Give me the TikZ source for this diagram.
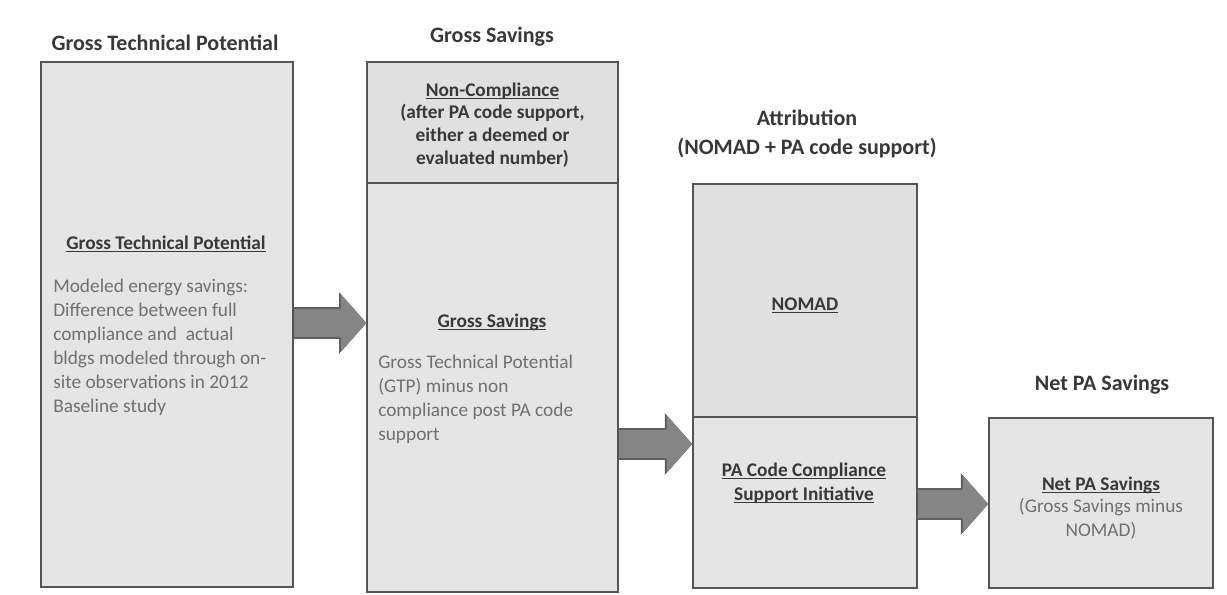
\documentclass[tikz,border=0pt]{standalone}
\usepackage{fontspec}
\setmainfont{Carlito}
\usetikzlibrary{arrows.meta}
\definecolor{boxfill}{HTML}{E5E5E5}
\definecolor{boxfilldark}{HTML}{E0E0E0}
\definecolor{boxline}{HTML}{555555}
\definecolor{arrowfill}{HTML}{858585}
\definecolor{arrowline}{HTML}{5F5F5F}
\definecolor{bodytext}{HTML}{707070}
\definecolor{headtext}{HTML}{383838}
% underline sitting right under the baseline
\newcommand{\headul}[1]{\underline{\raisebox{0pt}[\height][0pt]{#1}}}

\begin{document}
\begin{tikzpicture}[x=0.75pt, y=-0.75pt,
    box/.style={draw=boxline, line width=1.2pt, fill=boxfill, inner sep=0pt},
    title/.style={font=\fontsize{16.5}{21.75}\selectfont\bfseries, text=headtext, align=center},
    head/.style={font=\fontsize{14.5}{17.5}\selectfont\bfseries, text=headtext, align=center},
    body/.style={font=\fontsize{14.5}{18}\selectfont, text=bodytext, align=left, inner sep=0pt, anchor=north west},
    blockarrow/.style={draw=arrowfill, line width=21.5pt, -{Triangle[length=19pt, width=42pt]},
        preaction={draw=arrowline, line width=23.5pt, -{Triangle[length=20.5pt, width=45pt]}}}]
    \useasboundingbox (0,0) rectangle (1227,594);

    %Boxes
    \node[box, minimum width=189pt, minimum height=393.75pt] (gtp) at (167,324.5) {};
    \node[box, fill=boxfilldark, minimum width=188pt, minimum height=91pt] (noncomp) at (492.5,122.5) {};
    \node[box, minimum width=188pt, minimum height=307pt] (gross) at (492.5,387.5) {};
    \node[box, fill=boxfilldark, minimum width=168pt, minimum height=175pt] (nomad) at (805,300.5) {};
    \node[box, minimum width=168pt, minimum height=128pt] (pacode) at (805,502.5) {};
    \node[box, minimum width=168pt, minimum height=127.5pt] (net) at (1101,503) {};

    %Titles
    \node[title] (gtptitle) at (165,43) {Gross Technical Potential};
    \node[title] (grosstitle) at (492,37) {Gross Savings};
    \node[title] (attrtitle) at (807,133.5) {Attribution\\(NOMAD + PA code support)};
    \node[title] (nettitle) at (1102,385) {Net PA Savings};

    %Box texts
    \node[head] (gtphead) at (166,244) {\headul{Gross Technical Potential}};
    \node[body] (gtpbody) at (53,279) {Modeled energy savings:\\Difference between full\\compliance and\ \ actual\\bldgs modeled through on-\\site observations in 2012\\Baseline study};
    \node[head, font=\fontsize{14.5}{17}\selectfont\bfseries] (noncomptext) at (492.5,125)
        {\headul{Non-Compliance}\\(after PA code support,\\either a deemed or\\evaluated number)};
    \node[head] (grosshead) at (492,322) {\headul{Gross Savings}};
    \node[body] (grossbody) at (378,355) {Gross Technical Potential\\(GTP) minus non\\compliance post PA code\\support};
    \node[head] (nomadhead) at (805,305) {\headul{NOMAD}};
    \node[head, font=\fontsize{14.5}{18}\selectfont\bfseries] (pacodehead) at (804,483)
        {\headul{PA Code Compliance}\\\headul{Support Initiative}};
    \node[head] (nethead) at (1101,485) {\headul{Net PA Savings}};
    \node[head, font=\fontsize{14.5}{18}\selectfont, text=bodytext] (netbody) at (1101,519) {(Gross Savings minus\\NOMAD)};

    %Arrows
    \coordinate (a1) at (0,323);
    \coordinate (a2) at (0,444);
    \coordinate (a3) at (0,504);
    \draw[blockarrow] (gtp.east |- a1) -- (gross.west |- a1);
    \draw[blockarrow] (gross.east |- a2) -- (pacode.west |- a2);
    \draw[blockarrow] (pacode.east |- a3) -- (net.west |- a3);
\end{tikzpicture}
\end{document}
